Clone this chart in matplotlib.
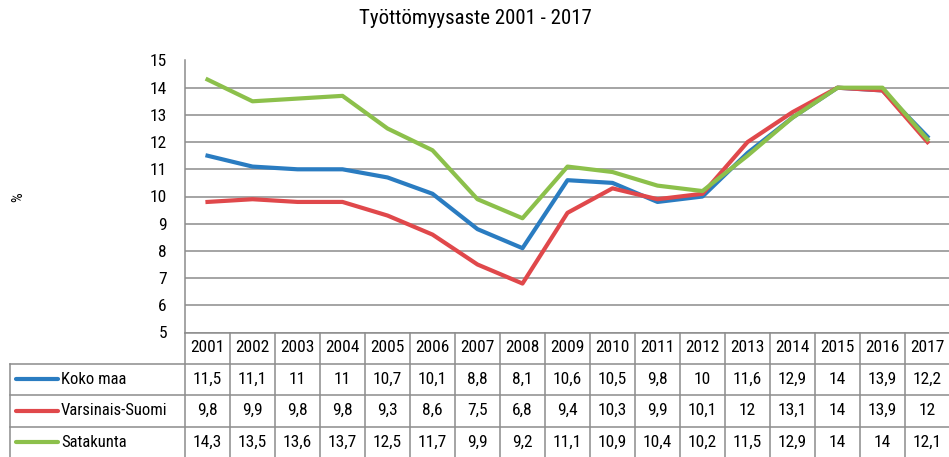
import matplotlib
matplotlib.use('Agg')
from matplotlib import pyplot as plt
from matplotlib import font_manager

years = ['2001', '2002', '2003', '2004', '2005', '2006', '2007', '2008', '2009',
         '2010', '2011', '2012', '2013', '2014', '2015', '2016', '2017']
series_names = ['Koko maa', 'Varsinais-Suomi', 'Satakunta']
koko_maa = [11.5, 11.1, 11, 11, 10.7, 10.1, 8.8, 8.1, 10.6, 10.5, 9.8, 10,
            11.6, 12.9, 14, 13.9, 12.2]
varsinais_suomi = [9.8, 9.9, 9.8, 9.8, 9.3, 8.6, 7.5, 6.8, 9.4, 10.3, 9.9,
                   10.1, 12, 13.1, 14, 13.9, 12]
satakunta = [14.3, 13.5, 13.6, 13.7, 12.5, 11.7, 9.9, 9.2, 11.1, 10.9, 10.4,
             10.2, 11.5, 12.9, 14, 14, 12.1]
colors = ['#2a7cc1', '#e0484b', '#8cc04b']

# narrow font if one is around
names = {f.name for f in font_manager.fontManager.ttflist}
narrow = [n for n in ['Liberation Sans Narrow', 'Roboto Condensed',
                      'Open Sans Condensed', 'DejaVu Sans Condensed'] if n in names]
plt.rcParams['font.family'] = narrow + ['DejaVu Sans']
plt.rcParams['font.stretch'] = 'condensed'

W, H = 949, 457
fig = plt.figure(figsize=(W / 100, H / 100), dpi=100)

# plot area in pixels
left, right, top, bottom = 185, 950, 60.5, 332.5
ax = fig.add_axes([left / W, 1 - bottom / H, (right - left) / W, (bottom - top) / H])
grid_c = '#8c8c8c'

xs = list(range(len(years)))
for vals, c in zip([koko_maa, varsinais_suomi, satakunta], colors):
    ax.plot(xs, vals, color=c, lw=3.0, solid_joinstyle='round', zorder=3)

ax.set_xlim(-0.5, len(years) - 0.5)
ax.set_ylim(5, 15)
ax.set_yticks(range(5, 16))
ax.set_xticks([])
ax.yaxis.grid(True, color=grid_c, lw=1.1)
ax.set_axisbelow(True)
for s in ['top', 'right', 'bottom']:
    ax.spines[s].set_visible(False)
ax.spines['left'].set_color(grid_c)
ax.spines['left'].set_linewidth(1.1)
ax.tick_params(axis='y', length=0, pad=13, labelsize=12.5)

fig.text(475 / W, 1 - 19 / H, 'Työttömyysaste 2001 - 2017', ha='center',
         va='center', fontsize=15)
fig.text(18 / W, 1 - 197 / H, '%', ha='center', va='center', rotation=90,
         fontsize=11)

# data table below the chart, in pixel coordinates
tab = fig.add_axes([0, 0, 1, 1])
tab.set_xlim(0, W)
tab.set_ylim(H, 0)
tab.axis('off')

colw = (right - left) / len(years)
row_y = [332.5, 363.5, 395, 426.5, 458]
tkw = dict(color=grid_c, lw=1.1)

# horizontal lines
tab.plot([left, right], [row_y[0], row_y[0]], **tkw)
for y in row_y[1:]:
    tab.plot([10, right], [y, y], **tkw)
# vertical lines
tab.plot([10, 10], [row_y[1], row_y[-1]], **tkw)
for i in range(len(years) + 1):
    tab.plot([left + i * colw] * 2, [row_y[0], row_y[-1]], **tkw)

for i, yr in enumerate(years):
    cx = left + (i + 0.5) * colw
    tab.text(cx, (row_y[0] + row_y[1]) / 2, yr, ha='center', va='center',
             fontsize=12.5)

for r, (name, vals, c) in enumerate(zip(series_names,
                                         [koko_maa, varsinais_suomi, satakunta],
                                         colors)):
    cy = (row_y[r + 1] + row_y[r + 2]) / 2
    tab.plot([16, 58], [cy, cy], color=c, lw=3.0, solid_capstyle='round')
    tab.text(61, cy, name, ha='left', va='center', fontsize=12)
    for i, v in enumerate(vals):
        txt = ('%g' % v).replace('.', ',')
        tab.text(left + (i + 0.5) * colw, cy, txt, ha='center', va='center',
                 fontsize=12.5)

fig.savefig('out.png', dpi=100)
